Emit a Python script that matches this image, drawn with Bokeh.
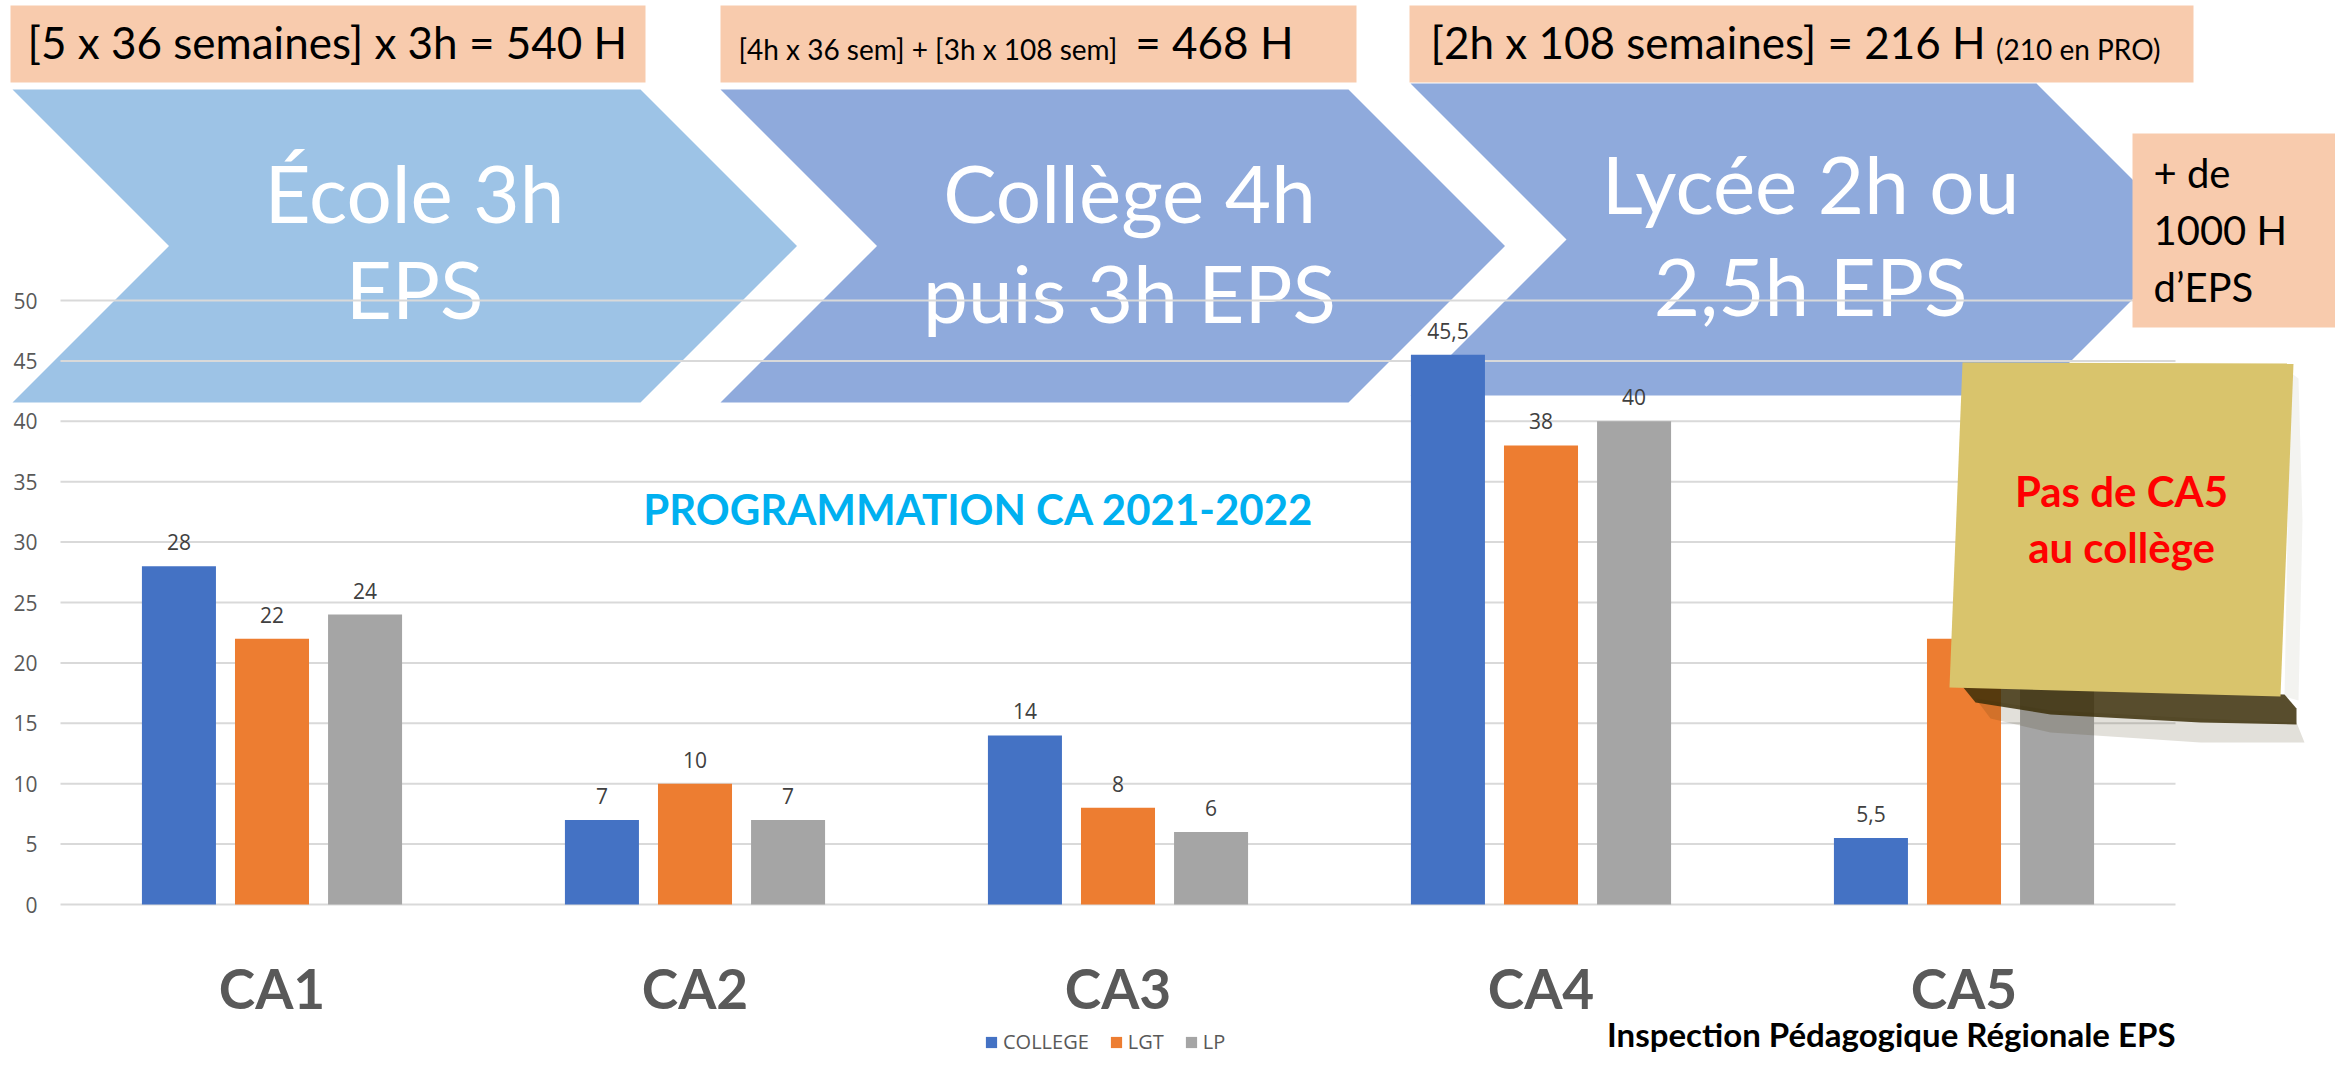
from bokeh.plotting import figure
from bokeh.models import Range1d, FixedTicker, ColumnDataSource, Legend, LegendItem
from bokeh.core.properties import value
from bokeh.embed import file_html
from bokeh.resources import INLINE

# ---------------- data ----------------
categories = ["CA1", "CA2", "CA3", "CA4", "CA5"]
series_names = ["COLLEGE", "LGT", "LP"]
college = [28, 7, 14, 45.5, 5.5]
lgt = [22, 10, 8, 38, 22]
lp = [24, 7, 6, 40, 25]          # CA5 value hidden under the note in the original
series_colors = ["#4472C4", "#ED7D31", "#A5A5A5"]
y_ticks = [0, 5, 10, 15, 20, 25, 30, 35, 40, 45, 50]

title_text = "PROGRAMMATION CA 2021-2022"
footer_text = "Inspection Pédagogique Régionale EPS"
stage_lines = [["École 3h", "EPS"], ["Collège 4h", "puis 3h EPS"], ["Lycée 2h ou", "2,5h EPS"]]
note_lines = ["Pas de CA5", "au collège"]
total_lines = ["+ de", "1000 H", "d’EPS"]

# ---------------- layout (reference pixels) ----------------
W, H, SHIFT = 2335, 1055, 0
PLOT_LEFT, CAT_PX, ZERO_Y, UNIT_PX = 60, 423, 904, 12.08


def dx(X):
    return (X - PLOT_LEFT) / CAT_PX - 0.5


def dy(Y):
    return (ZERO_Y - Y) / UNIT_PX


def poly(points):
    return [dx(a) for a, b in points], [dy(b) for a, b in points]


p = figure(width=W, height=H,
           x_range=Range1d(dx(SHIFT), dx(SHIFT + W)),
           y_range=Range1d(dy(SHIFT + H), dy(SHIFT)),
           output_backend="svg", toolbar_location=None, min_border=0,
           outline_line_color=None, background_fill_color="white")
p.grid.visible = False

LATO = value("Lato")
OPEN = value("Open Sans")


def txt(s, X, base, size, color="black", align="left", style="normal", font=LATO):
    # base = wanted baseline (reference px); text box is centred, so lift by ~0.387 em
    Y = base - 0.387 * size
    p.text(x=[dx(X)], y=[dy(Y)], text=[s], text_font=font, text_font_size=f"{size}px",
           text_color=color, text_align=align, text_baseline="middle",
           text_font_style=style)


# peach boxes on top
PEACH = "#F8CBAD"
for x0, x1, y0, y1 in [(10, 645, 5, 82), (720, 1356, 5, 82), (1409, 2193, 5, 82)]:
    p.quad(left=dx(x0), right=dx(x1), top=dy(y0), bottom=dy(y1), fill_color=PEACH, line_color=None)

txt("[5 x 36 semaines] x 3h = 540 H", 27, 59, 44)
txt("[4h x 36 sem] + [3h x  108 sem]", 738, 59, 28)
txt("= 468 H", 1293, 59, 44, align="right")
txt("[2h x 108 semaines] = 216 H", 1430, 59, 44)
txt("(210 en PRO)", 2160, 59, 28, align="right")

# chevrons
for (x0, x1, yt, yb, col) in [(12, 640, 89, 402, "#9DC3E6"),
                              (720, 1348, 89, 402, "#8FAADC"),
                              (1410, 2036, 83, 395, "#8FAADC")]:
    d = (yb - yt) / 2
    ym = (yt + yb) / 2
    xs, ys = poly([(x0, yt), (x1, yt), (x1 + d, ym), (x1, yb), (x0, yb), (x0 + d, ym)])
    p.patch(xs, ys, fill_color=col, line_color=None)

for lines, cx, b1, b2 in zip(stage_lines, [414, 1129, 1810], [222, 222, 213], [318, 322, 315]):
    txt(lines[0], cx, b1, 80, color="white", align="center")
    txt(lines[1], cx, b2, 80, color="white", align="center")

# grid lines
p.segment(x0=[-0.5] * len(y_ticks), x1=[4.5] * len(y_ticks), y0=y_ticks, y1=y_ticks,
          line_color="#D9D9D9", line_width=2)

# bars and value labels
offsets = [-0.22, 0.0, 0.22]
renderers = []
for name, vals, col, off in zip(series_names, [college, lgt, lp], series_colors, offsets):
    src = ColumnDataSource(dict(x=[i + off for i in range(len(categories))], top=vals,
                                label=[f"{v:g}".replace(".", ",") for v in vals]))
    r = p.vbar(x="x", top="top", width=0.175, source=src, fill_color=col, line_color=None)
    renderers.append((name, r))
    p.text(x="x", y="top", text="label", source=src, y_offset=-24, text_align="center",
           text_baseline="middle", text_font=OPEN, text_font_size="21px", text_color="#404040")

# title inside plot
txt(title_text, 978, 525, 42, color="#00B0F0", align="center", style="bold")

# total box (right)
p.quad(left=dx(2132), right=dx(2360), top=dy(133), bottom=dy(327), fill_color=PEACH, line_color=None)
for s, b in zip(total_lines, [188, 245, 302]):
    txt(s, 2153, b, 40)

# sticky note shadow + note
SH = "#3B2E08"
xs, ys = poly([(2290, 372), (2298, 378), (2302, 520), (2298, 700), (2284, 696)])
p.patch(xs, ys, fill_color=SH, fill_alpha=0.06, line_color=None)
xs, ys = poly([(1975, 698), (2050, 710), (2200, 718), (2296, 722), (2304, 742),
               (2200, 742), (2050, 732), (1990, 718)])
p.patch(xs, ys, fill_color=SH, fill_alpha=0.15, line_color=None)
xs, ys = poly([(1962, 686), (2284, 694), (2296, 708), (2296, 724), (2200, 722),
               (2050, 714), (1975, 702)])
p.patch(xs, ys, fill_color=SH, fill_alpha=0.85, line_color=None)
xs, ys = poly([(1962, 362), (2293, 363), (2290, 440), (2280, 696), (1949, 687)])
p.patch(xs, ys, fill_color="#D9C46C", line_color=None)
txt(note_lines[0], 2121, 507, 42, color="#FF0000", align="center", style="bold")
txt(note_lines[1], 2121, 563, 42, color="#FF0000", align="center", style="bold")

# footer
txt(footer_text, 2175, 1046, 33, align="right", style="bold")

# axes (real Bokeh axes, placed inside the frame)
p.yaxis.fixed_location = -0.5
p.yaxis.ticker = FixedTicker(ticks=y_ticks)
p.yaxis.axis_line_color = None
p.yaxis.major_tick_line_color = None
p.yaxis.minor_tick_line_color = None
p.yaxis.major_tick_out = 0
p.yaxis.major_label_standoff = 23
p.yaxis.major_label_text_font = "Open Sans"
p.yaxis.major_label_text_font_size = "21px"
p.yaxis.major_label_text_color = "#595959"

p.xaxis.fixed_location = 0
p.xaxis.ticker = FixedTicker(ticks=list(range(len(categories))))
p.xaxis.major_label_overrides = {i: c for i, c in enumerate(categories)}
p.xaxis.axis_line_color = None
p.xaxis.major_tick_line_color = None
p.xaxis.minor_tick_line_color = None
p.xaxis.major_tick_out = 0
p.xaxis.major_label_standoff = 50
p.xaxis.major_label_text_font = "Lato"
p.xaxis.major_label_text_font_style = "bold"
p.xaxis.major_label_text_font_size = "55px"
p.xaxis.major_label_text_color = "#595959"

legend = Legend(items=[LegendItem(label=n, renderers=[r]) for n, r in renderers],
                orientation="horizontal", location=(984, 0), glyph_width=14, glyph_height=14,
                label_height=14, label_text_font="Open Sans", label_text_font_size="20px",
                label_text_color="#595959", spacing=20, label_standoff=5, padding=0, margin=0,
                border_line_color=None, background_fill_alpha=0)
p.add_layout(legend)

open("out.html", "w").write(file_html(p, INLINE))
